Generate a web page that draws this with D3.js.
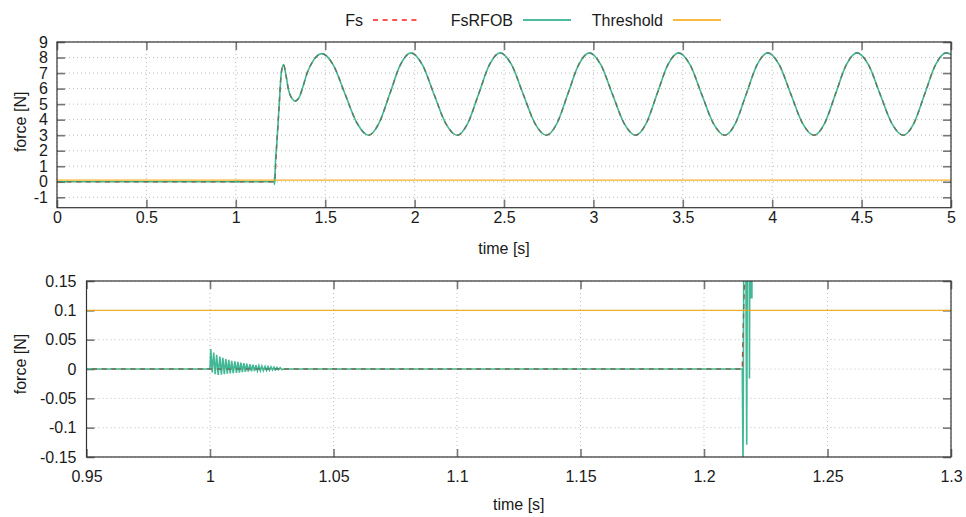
<!DOCTYPE html>
<html>
<head>
<meta charset="utf-8">
<script src="https://cdn.jsdelivr.net/npm/d3@7"></script>
<style>
    body { margin: 0; background: #fff; }
    svg { font-family: "Liberation Sans", Arial, sans-serif; }
    .tick text { font-size: 16px; fill: #1a1a1a; }
    .axis-title { font-size: 16px; fill: #1a1a1a; }
    .legend text { font-size: 16px; fill: #1a1a1a; }
</style>
</head>
<body>
<div id="chart"></div>
<script>
// ---- data ----
// measured force Fs (also the base of FsRFOB), time in s, force in N
const fsT = [0, 1.2155, 1.230, 1.242, 1.254, 1.267, 1.280, 1.295, 1.315, 1.332, 1.355, 1.375, 1.398, 1.435,
    1.481, 1.546, 1.611, 1.677, 1.742, 1.801, 1.861, 1.920,
    1.979, 2.044, 2.108, 2.173, 2.238, 2.298, 2.358, 2.418,
    2.478, 2.543, 2.607, 2.672, 2.737, 2.797, 2.857, 2.917,
    2.977, 3.042, 3.106, 3.171, 3.236, 3.296, 3.356, 3.416,
    3.476, 3.541, 3.605, 3.670, 3.735, 3.795, 3.855, 3.915,
    3.975, 4.040, 4.104, 4.169, 4.234, 4.294, 4.354, 4.414,
    4.474, 4.539, 4.603, 4.668, 4.733, 4.793, 4.853, 4.913,
    4.972, 5.0];
const fsV = [0, 0, 2.6, 4.8, 6.97, 7.55, 6.9, 5.9, 5.35, 5.19, 5.45, 6.1, 6.97, 7.83,
    8.25, 7.5, 5.65, 3.8, 3.0, 3.78, 5.65, 7.52,
    8.3, 7.52, 5.65, 3.78, 3.0, 3.78, 5.65, 7.52,
    8.3, 7.52, 5.65, 3.78, 3.0, 3.78, 5.65, 7.52,
    8.3, 7.52, 5.65, 3.78, 3.0, 3.78, 5.65, 7.52,
    8.3, 7.52, 5.65, 3.78, 3.0, 3.78, 5.65, 7.52,
    8.3, 7.52, 5.65, 3.78, 3.0, 3.78, 5.65, 7.52,
    8.3, 7.52, 5.65, 3.78, 3.0, 3.78, 5.65, 7.52,
    8.3, 8.2];

// FsRFOB ringing after t = 1.0 s
const oscT = [1.0000,
    1.0003, 1.0009, 1.0015, 1.0021, 1.0027, 1.0033, 1.0040, 1.0046, 1.0052, 1.0058, 1.0064, 1.0070,
    1.0076, 1.0082, 1.0088, 1.0094, 1.0101, 1.0107, 1.0113, 1.0119, 1.0125, 1.0131, 1.0137, 1.0143,
    1.0149, 1.0155, 1.0162, 1.0168, 1.0174, 1.0180, 1.0186, 1.0192, 1.0198, 1.0204, 1.0210, 1.0216,
    1.0223, 1.0229, 1.0235, 1.0241, 1.0247, 1.0253, 1.0259, 1.0265, 1.0271, 1.0277, 1.0284, 1.0290,
    1.0300];
const oscV = [0,
    0.034, -0.006, 0.028, -0.009, 0.024, -0.010, 0.021, -0.0095, 0.019, -0.009, 0.017, -0.008,
    0.0155, -0.0075, 0.014, -0.007, 0.013, -0.0065, 0.012, -0.006, 0.011, -0.0055, 0.010, -0.005,
    0.009, -0.0045, 0.008, -0.004, 0.0072, -0.0037, 0.0065, -0.0033, 0.0058, -0.003, 0.005, -0.0027,
    0.0045, -0.0024, 0.004, -0.002, 0.0035, -0.0018, 0.003, -0.0015, 0.0025, -0.0012, 0.002, -0.001,
    0];

// FsRFOB ringing at the contact instant
const spikeT = [1.2155, 1.2158, 1.2162, 1.2168, 1.2173, 1.2177, 1.2182, 1.2184, 1.2187, 1.2189, 1.2191, 1.2194, 1.2197];
const spikeV = [0, -0.17, 0.30, 0.30, -0.129, 0.40, 0.40, -0.016, 0.45, 0.12, 0.50, 0.12, 0.60];

const thresholdValue = 0.1;

const seriesNames = ['Fs', 'FsRFOB', 'Threshold'];
const seriesColors = ['#ff1a1a', '#14a67c', '#f5a300'];

const topXTicks = [0, 0.5, 1, 1.5, 2, 2.5, 3, 3.5, 4, 4.5, 5];
const topYTicks = [-1, 0, 1, 2, 3, 4, 5, 6, 7, 8, 9];
const bottomXTicks = [0.95, 1, 1.05, 1.1, 1.15, 1.2, 1.25, 1.3];
const bottomYTicks = [-0.15, -0.1, -0.05, 0, 0.05, 0.1, 0.15];

// build series from the arrays
const fsPoints = fsT.map((t, i) => ({t: t, v: fsV[i]}));
const rfobPoints = fsPoints
    .filter(p => !(p.t > 0.9999 && p.t < 1.0301) && !(p.t > 1.2154 && p.t < 1.2199))
    .concat(oscT.map((t, i) => ({t: t, v: oscV[i]})))
    .concat(spikeT.map((t, i) => ({t: t, v: spikeV[i]})))
    .sort((a, b) => a.t - b.t);

const svg = d3.select('#chart').append('svg')
    .attr('width', 966)
    .attr('height', 517);

class ForcePanel {
    constructor(_config) {
        this.config = _config;
        this.initVis();
    }

    initVis() {
        let vis = this;
        const c = vis.config;
        vis.width = c.right - c.left;
        vis.height = c.bottom - c.top;

        vis.chart = svg.append('g')
            .attr('transform', `translate(${c.left},${c.top})`);

        vis.xScale = d3.scaleLinear().domain(c.xDomain).range([0, vis.width]);
        vis.yScale = d3.scaleLinear().domain(c.yDomain).range([vis.height, 0]);

        vis.chart.append('clipPath').attr('id', c.id + '-clip')
            .append('rect').attr('width', vis.width).attr('height', vis.height);

        // dotted grid
        const grid = vis.chart.append('g').attr('class', 'grid')
            .attr('stroke', '#bdbdbd').attr('stroke-dasharray', '1,3').attr('stroke-width', 1);
        grid.selectAll('.gx').data(c.xTicks).join('line')
            .attr('x1', d => vis.xScale(d)).attr('x2', d => vis.xScale(d))
            .attr('y1', 0).attr('y2', vis.height);
        grid.selectAll('.gy').data(c.yTicks).join('line')
            .attr('y1', d => vis.yScale(d)).attr('y2', d => vis.yScale(d))
            .attr('x1', 0).attr('x2', vis.width);

        // axes with inward ticks, mirrored on top and right
        const fmt = d => String(d);
        vis.chart.append('g').attr('class', 'axis x-axis')
            .attr('transform', `translate(0,${vis.height})`)
            .call(d3.axisBottom(vis.xScale).tickValues(c.xTicks).tickFormat(fmt)
                .tickSize(-8).tickPadding(c.xPad).tickSizeOuter(0));
        vis.chart.append('g').attr('class', 'axis')
            .call(d3.axisTop(vis.xScale).tickValues(c.xTicks).tickFormat('')
                .tickSize(-8).tickSizeOuter(0));
        vis.chart.append('g').attr('class', 'axis y-axis')
            .call(d3.axisLeft(vis.yScale).tickValues(c.yTicks).tickFormat(fmt)
                .tickSize(-8).tickPadding(c.yPad).tickSizeOuter(0));
        vis.chart.append('g').attr('class', 'axis')
            .attr('transform', `translate(${vis.width},0)`)
            .call(d3.axisRight(vis.yScale).tickValues(c.yTicks).tickFormat('')
                .tickSize(-8).tickSizeOuter(0));

        vis.chart.selectAll('.axis .domain').remove();
        vis.chart.selectAll('.axis .tick line').attr('stroke', '#777').attr('stroke-width', 1.6);
        vis.chart.selectAll('.axis .tick text').attr('font-family', null).attr('font-size', null);

        // axis titles
        vis.chart.append('text')
            .attr('class', 'axis-title')
            .attr('x', vis.width / 2)
            .attr('y', vis.height + c.xTitleOffset)
            .style('text-anchor', 'middle')
            .text('time [s]');
        vis.chart.append('text')
            .attr('class', 'axis-title')
            .attr('transform', `translate(${20 - c.left},${vis.height / 2 + c.yTitleShift}) rotate(-90)`)
            .attr('dy', '0.35em')
            .style('text-anchor', 'middle')
            .text('force [N]');

        vis.lines = vis.chart.append('g').attr('clip-path', `url(#${c.id}-clip)`);

        // frame
        vis.chart.append('rect')
            .attr('width', vis.width).attr('height', vis.height)
            .attr('fill', 'none').attr('stroke', '#333').attr('stroke-width', 1.2);
    }

    renderVis() {
        let vis = this;
        const line = d3.line()
            .x(d => vis.xScale(d.t))
            .y(d => vis.yScale(d.v))
            .curve(vis.config.curve);

        vis.lines.append('path').datum(fsPoints)
            .attr('d', line).attr('fill', 'none')
            .attr('stroke', seriesColors[0]).attr('stroke-width', 1.4)
            .attr('stroke-dasharray', '5,4.6');

        vis.lines.append('path').datum(rfobPoints)
            .attr('d', line).attr('fill', 'none')
            .attr('stroke', seriesColors[1]).attr('stroke-width', 1.6)
            .attr('stroke-opacity', 0.8);

        const thr = vis.config.xDomain.map(t => ({t: t, v: thresholdValue}));
        vis.lines.append('path').datum(thr)
            .attr('d', d3.line().x(d => vis.xScale(d.t)).y(d => vis.yScale(d.v)))
            .attr('fill', 'none')
            .attr('stroke', seriesColors[2]).attr('stroke-width', 1.3)
            .attr('stroke-opacity', 0.85);
    }
}

const topPanel = new ForcePanel({
    id: 'top', left: 57, right: 951, top: 42, bottom: 207.7,
    xDomain: [0, 5], yDomain: [-1.67, 9],
    xTicks: topXTicks, yTicks: topYTicks,
    xPad: 4, yPad: 9, xTitleOffset: 46, yTitleShift: -3,
    curve: d3.curveMonotoneX
});
topPanel.renderVis();

const bottomPanel = new ForcePanel({
    id: 'bottom', left: 86.5, right: 951, top: 281, bottom: 457,
    xDomain: [0.95, 1.3], yDomain: [-0.15, 0.15],
    xTicks: bottomXTicks, yTicks: bottomYTicks,
    xPad: 14, yPad: 10, xTitleOffset: 53, yTitleShift: -5,
    curve: d3.curveLinear
});
bottomPanel.renderVis();

// legend: right-aligned label followed by a line sample
const legendTextX = [363, 513, 663];
const legend = svg.append('g').attr('class', 'legend');
seriesNames.forEach((name, i) => {
    legend.append('text')
        .attr('x', legendTextX[i]).attr('y', 20)
        .attr('dy', '0.35em')
        .style('text-anchor', 'end')
        .text(name);
    legend.append('line')
        .attr('x1', legendTextX[i] + 10).attr('x2', legendTextX[i] + 58)
        .attr('y1', 20).attr('y2', 20)
        .attr('stroke', seriesColors[i]).attr('stroke-width', 1.4)
        .attr('stroke-dasharray', i === 0 ? '5,4.6' : null);
});
</script>
</body>
</html>
